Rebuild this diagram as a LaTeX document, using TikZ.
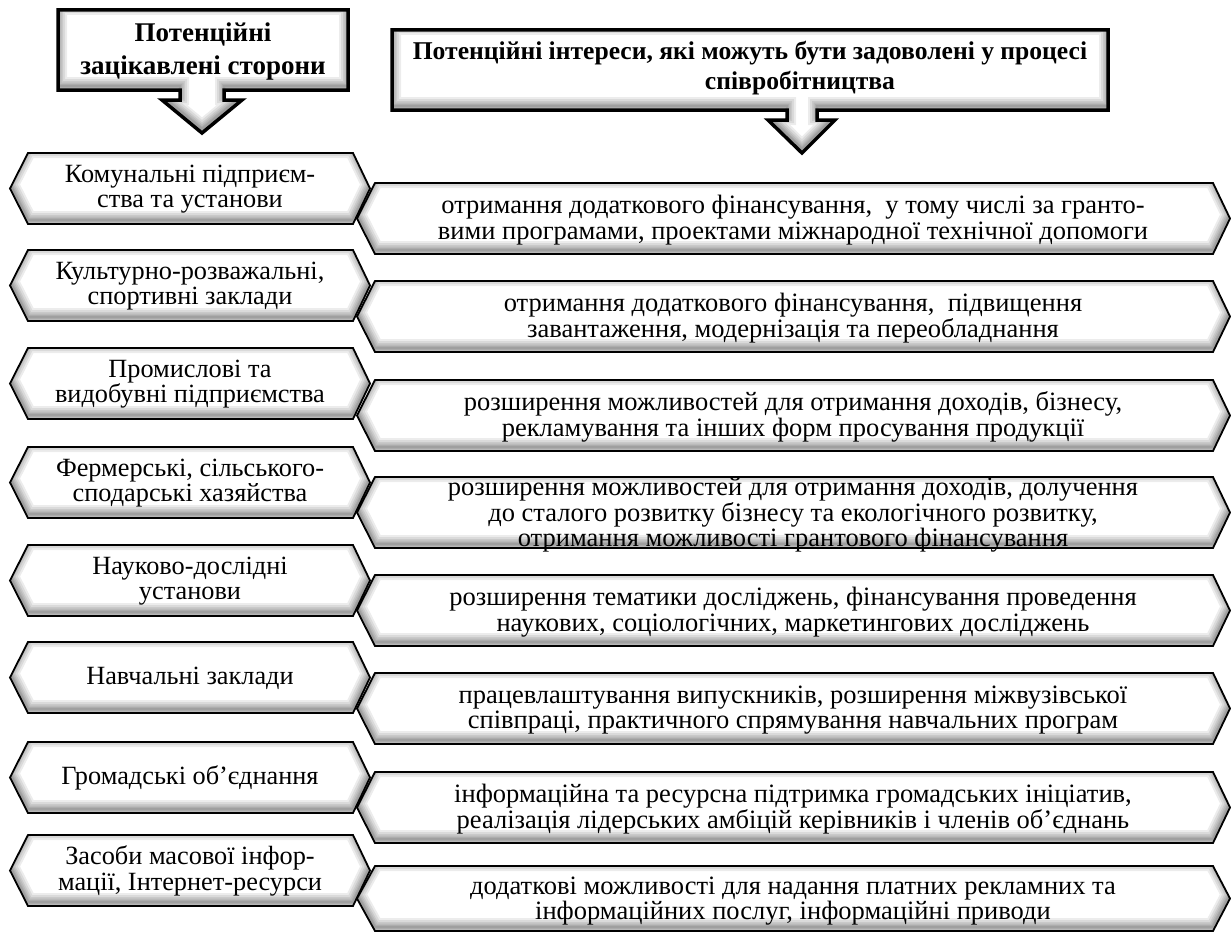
\documentclass[tikz,border=0pt]{standalone}
\usepackage{fontspec}
\setmainfont{Liberation Serif}
\begin{document}
\begin{tikzpicture}[x=1pt,y=-1pt,
  lefttxt/.style={align=center,font=\fontsize{26.3}{25.5}\selectfont,inner sep=0pt},
  righttxt/.style={align=center,font=\fontsize{26.5}{25.5}\selectfont,inner sep=0pt},
  headtxt/.style={align=center,font=\bfseries\fontsize{27}{33}\selectfont,inner sep=0pt}]
\useasboundingbox (0,0) rectangle (1231,934);
\fill[white] (0,0) rectangle (1231,934);
\newcommand\glowshape[2]{%
  \fill[white] #1;
  \begin{scope}
    \clip #1;
    \foreach \w in {2,4,7,10,14,18}{
      \draw[black,opacity=0.075,line width=\w pt,yshift=4pt] #1;
    }
  \end{scope}
  \draw[black,line width=#2,line join=miter] #1;
}
\newcommand\leftbox[1]{\glowshape{(28,#1) -- (353,#1) -- (370,#1+35.5) -- (353,#1+71) -- (28,#1+71) -- (10,#1+35.5) -- cycle}{1.8pt}}
\newcommand\rightbox[2]{\glowshape{(375,#1) -- (1213,#1) -- (1230,#1+#2/2) -- (1213,#1+#2) -- (375,#1+#2) -- (357,#1+#2/2) -- cycle}{1.8pt}}
% headers
\glowshape{(58,10) -- (348,10) -- (348,90) -- (224,90) -- (224,100) -- (242,100) -- (202,133) -- (162,100) -- (180,100) -- (180,90) -- (58,90) -- cycle}{3.5pt}
\glowshape{(392,30) -- (1108,30) -- (1108,110) -- (817,110) -- (817,120) -- (835,120) -- (802,153) -- (768,120) -- (787,120) -- (787,110) -- (392,110) -- cycle}{3.5pt}
\node[headtxt] (h1) at (203,52) {Потенційні\\зацікавлені сторони};
\node[headtxt,font=\bfseries\fontsize{25.6}{30}\selectfont] (h2) at (750,68) {Потенційні інтереси, які можуть бути задоволені у процесі\\\hspace*{100pt}співробітництва};
% left boxes
\foreach \t in {153,250,348,447,545,642,742,835}{\leftbox{\t}}
% right boxes
\foreach \t in {183,281,380,477,575,673,772}{\rightbox{\t}{71}}
\rightbox{866}{65}
% left texts
\node[lefttxt] (l1) at (190,189) {Комунальні підприєм-\\ства та установи};
\node[lefttxt] (l2) at (190,286) {Культурно-розважальні,\\спортивні заклади};
\node[lefttxt] (l3) at (190,384) {Промислові та\\видобувні підприємства};
\node[lefttxt] (l4) at (190,483) {Фермерські, сільського-\\сподарські хазяйства};
\node[lefttxt] (l5) at (190,581) {Науково-дослідні\\установи};
\node[lefttxt] (l6) at (190,678) {Навчальні заклади};
\node[lefttxt] (l7) at (190,778) {Громадські об’єднання};
\node[lefttxt] (l8) at (190,871) {Засоби масової інфор-\\мації, Інтернет-ресурси};
% right texts
\node[righttxt] (r1) at (793,220) {отримання додаткового фінансування,~ у тому числі за гранто-\\вими програмами, проектами міжнародної технічної допомоги};
\node[righttxt] (r2) at (793,318) {отримання додаткового фінансування,~ підвищення\\завантаження, модернізація та переобладнання};
\node[righttxt] (r3) at (793,417) {розширення можливостей для отримання доходів, бізнесу,\\рекламування та інших форм просування продукції};
\node[righttxt,font=\fontsize{26.5}{19.5}\selectfont] (r4) at (793,515) {розширення можливостей для отримання доходів, долучення\\до сталого розвитку бізнесу та екологічного розвитку,\\отримання можливості грантового фінансування};
\node[righttxt] (r5) at (793,612) {розширення тематики досліджень, фінансування проведення\\наукових, соціологічних, маркетингових досліджень};
\node[righttxt] (r6) at (793,710) {працевлаштування випускників, розширення міжвузівської\\співпраці, практичного спрямування навчальних програм};
\node[righttxt] (r7) at (793,809) {інформаційна та ресурсна підтримка громадських ініціатив,\\реалізація лідерських амбіцій керівників і членів об’єднань};
\node[righttxt] (r8) at (793,901) {додаткові можливості для надання платних рекламних та\\інформаційних послуг, інформаційні приводи};
\end{tikzpicture}
\end{document}
